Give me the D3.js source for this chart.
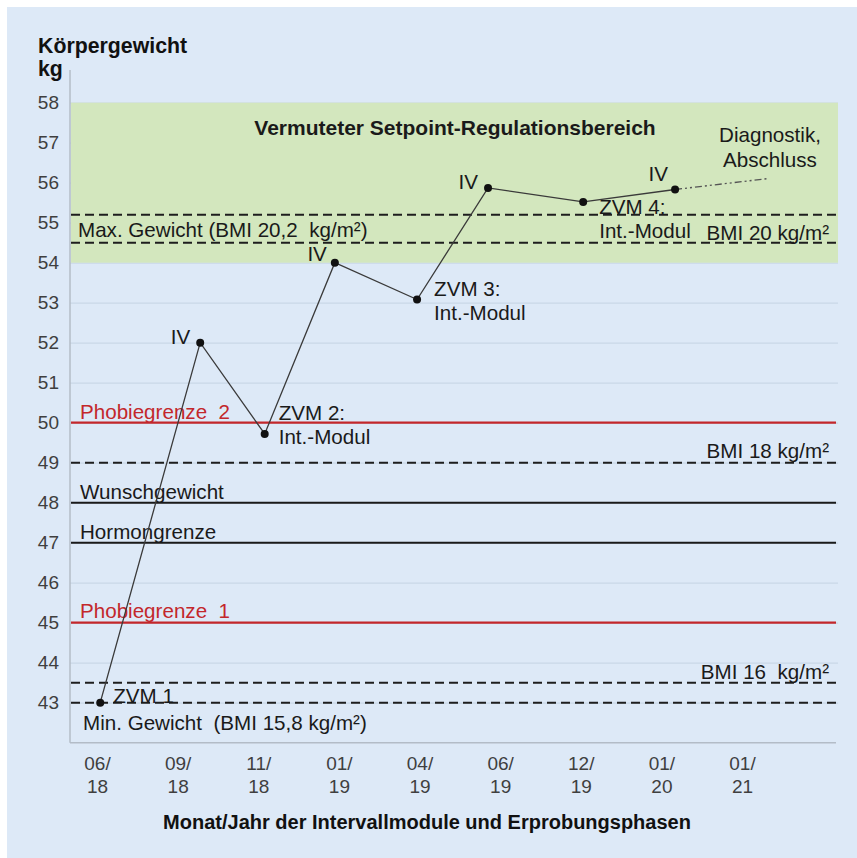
<!DOCTYPE html>
<html>
<head>
<meta charset="utf-8">
<script src="https://cdn.jsdelivr.net/npm/d3@7"></script>
<style>
  body { margin: 0; background: #fff; }
  text { font-family: "Liberation Sans", Arial, sans-serif; }
</style>
</head>
<body>
<div id="chart"></div>
<script>
// month/year labels on the x axis
const months = ["06/18", "09/18", "11/18", "01/19", "04/19", "06/19", "12/19", "01/20", "01/21"];

// weight course: position along the month axis (0 = first label) and kg
const pointPos = [0.04, 1.28, 2.08, 2.95, 3.97, 4.85, 6.03, 7.17];
const weights = [43, 52, 49.72, 54, 53.08, 55.87, 55.52, 55.83];
const pointNotes = ["ZVM 1", "IV", "ZVM 2:\nInt.-Modul", "IV", "ZVM 3:\nInt.-Modul", "IV", "ZVM 4:\nInt.-Modul", "IV"];

// outlook (dash-dot) towards diagnostics / end
const outlookPos = [7.17, 8.31];
const outlookKg = [55.83, 56.1];

// reference lines
const refNames = ["Max. Gewicht (BMI 20,2  kg/m²)", "BMI 20 kg/m²", "Phobiegrenze  2", "BMI 18 kg/m²",
  "Wunschgewicht", "Hormongrenze", "Phobiegrenze  1", "BMI 16  kg/m²", "Min. Gewicht  (BMI 15,8 kg/m²)"];
const refValues = [55.2, 54.5, 50, 49, 48, 47, 45, 43.5, 43];

// assumed setpoint band
const bandRange = [54, 58];
const yTicks = d3.range(43, 59);

const width = 857, height = 858;

const svg = d3.select("#chart").append("svg")
  .attr("width", width)
  .attr("height", height);

svg.append("rect")
  .attr("x", 7).attr("y", 7)
  .attr("width", width - 7).attr("height", height - 7)
  .attr("fill", "#dde9f7");

const x = d3.scaleLinear().domain([0, 8]).range([97, 742]);
const y = d3.scaleLinear().domain([42, 58]).range([742.7, 102.7]);
const plotLeft = 70, plotRight = 836;

// gridlines
svg.append("g")
  .attr("transform", `translate(${plotLeft},0)`)
  .call(d3.axisLeft(y).tickValues(yTicks).tickSize(-(plotRight - plotLeft + 2)).tickFormat(""))
  .call(g => g.select(".domain").remove())
  .call(g => g.selectAll("line").attr("stroke", "#c9d7e7").attr("stroke-width", 1.2));

// setpoint band
svg.append("rect")
  .attr("x", plotLeft + 1)
  .attr("y", y(bandRange[1]))
  .attr("width", plotRight + 1 - plotLeft)
  .attr("height", y(bandRange[0]) - y(bandRange[1]))
  .attr("fill", "#d3e7be");

// y tick labels
svg.append("g")
  .attr("transform", `translate(59,0)`)
  .call(d3.axisLeft(y).tickValues(yTicks).tickSize(0).tickPadding(0))
  .call(g => g.select(".domain").remove())
  .call(g => g.selectAll("text")
    .attr("fill", "#3f3f3f")
    .style("font-size", "19px")
    .style("font-family", "Liberation Sans, Arial, sans-serif"));

// axis lines
svg.append("line")
  .attr("x1", plotLeft).attr("x2", plotLeft)
  .attr("y1", 70).attr("y2", y(42))
  .attr("stroke", "#b3bcc7").attr("stroke-width", 1.5);
svg.append("line")
  .attr("x1", plotLeft).attr("x2", plotRight)
  .attr("y1", y(42)).attr("y2", y(42))
  .attr("stroke", "#b3bcc7").attr("stroke-width", 1.5);

// x tick labels (two lines)
const xAxis = svg.append("g")
  .attr("transform", `translate(0,${y(42)})`)
  .call(d3.axisBottom(x).tickValues(d3.range(months.length)).tickSize(0).tickFormat(""))
  .call(g => g.select(".domain").remove());

xAxis.selectAll(".tick").append("text")
  .attr("text-anchor", "middle")
  .attr("fill", "#3f3f3f")
  .style("font-size", "19px")
  .selectAll("tspan")
  .data(i => months[i].split("/").map((s, k) => k === 0 ? s + "/" : s))
  .join("tspan")
  .attr("x", 0)
  .attr("y", (d, k) => 27 + k * 23)
  .text(d => d);

// reference lines
const refStyle = {
  dashed: { stroke: "#1e1e1e", width: 1.9, dash: "9,5" },
  red: { stroke: "#c3272b", width: 2.2, dash: null },
  solid: { stroke: "#1a1a1a", width: 2, dash: null }
};
const refKind = ["dashed", "dashed", "red", "dashed", "solid", "solid", "red", "dashed", "dashed"];

svg.append("g").selectAll("line")
  .data(refValues)
  .join("line")
  .attr("x1", plotLeft + 1).attr("x2", plotRight)
  .attr("y1", d => y(d)).attr("y2", d => y(d))
  .attr("stroke", (d, i) => refStyle[refKind[i]].stroke)
  .attr("stroke-width", (d, i) => refStyle[refKind[i]].width)
  .attr("stroke-dasharray", (d, i) => refStyle[refKind[i]].dash);

// reference labels: [anchor side, offset from line, x]
const refLabelLayout = [
  ["left", 22, 78], ["right", -3, 829], ["left", -4, 80], ["right", -5, 829],
  ["left", -4, 80], ["left", -4, 80], ["left", -5, 80], ["right", -4, 829], ["left", 27, 83]
];
svg.append("g").selectAll("text")
  .data(refNames)
  .join("text")
  .attr("x", (d, i) => refLabelLayout[i][2])
  .attr("y", (d, i) => y(refValues[i]) + refLabelLayout[i][1])
  .attr("text-anchor", (d, i) => refLabelLayout[i][0] === "right" ? "end" : "start")
  .attr("fill", (d, i) => refKind[i] === "red" ? "#c3272b" : "#1a1a1a")
  .style("font-size", "20.6px")
  .style("white-space", "pre")
  .text(d => d);

// band title
svg.append("text")
  .attr("x", 455).attr("y", y(57.2))
  .attr("text-anchor", "middle")
  .attr("fill", "#1a1a1a")
  .style("font-size", "21px")
  .style("font-weight", "bold")
  .text("Vermuteter Setpoint-Regulationsbereich");

// weight course
const line = d3.line().x(d => x(d[0])).y(d => y(d[1]));
const pts = pointPos.map((p, i) => [p, weights[i]]);

svg.append("path")
  .datum(outlookPos.map((p, i) => [p, outlookKg[i]]))
  .attr("d", line)
  .attr("fill", "none")
  .attr("stroke", "#555")
  .attr("stroke-width", 1.3)
  .attr("stroke-dasharray", "7,3,2,3,2,3");

svg.append("path")
  .datum(pts)
  .attr("d", line)
  .attr("fill", "none")
  .attr("stroke", "#3a3a3a")
  .attr("stroke-width", 1.3);

svg.append("g").selectAll("circle")
  .data(pts)
  .join("circle")
  .attr("cx", d => x(d[0]))
  .attr("cy", d => y(d[1]))
  .attr("r", 4)
  .attr("fill", "#111");

// point notes: [dx, dy of first line, anchor]
const noteLayout = [
  [13, 0, "start"], [-10, 1, "end"], [14, -14, "start"], [-8, -2, "end"],
  [17, -4, "start"], [-10, 1, "end"], [16, 12, "start"], [-7, -9, "end"]
];
svg.append("g").selectAll("text")
  .data(pointNotes)
  .join("text")
  .attr("text-anchor", (d, i) => noteLayout[i][2])
  .attr("fill", "#1a1a1a")
  .style("font-size", "20.6px")
  .each(function(d, i) {
    const px = x(pointPos[i]) + noteLayout[i][0];
    const py = y(weights[i]) + noteLayout[i][1];
    d3.select(this).selectAll("tspan")
      .data(d.split("\n"))
      .join("tspan")
      .attr("x", px)
      .attr("y", (s, k) => py + k * 24)
      .text(s => s);
  });

// outlook note
svg.append("text")
  .attr("text-anchor", "middle")
  .attr("fill", "#1a1a1a")
  .style("font-size", "20.6px")
  .selectAll("tspan")
  .data(["Diagnostik,", "Abschluss"])
  .join("tspan")
  .attr("x", 770)
  .attr("y", (d, k) => 142 + k * 25)
  .text(d => d);

// axis titles
svg.append("text")
  .attr("x", 38).attr("y", 53)
  .attr("fill", "#111")
  .style("font-size", "21.3px")
  .style("font-weight", "bold")
  .text("Körpergewicht");
svg.append("text")
  .attr("x", 38).attr("y", 76)
  .attr("fill", "#111")
  .style("font-size", "21.3px")
  .style("font-weight", "bold")
  .text("kg");
svg.append("text")
  .attr("x", 427).attr("y", 829)
  .attr("text-anchor", "middle")
  .attr("fill", "#111")
  .style("font-size", "20px")
  .style("font-weight", "bold")
  .text("Monat/Jahr der Intervallmodule und Erprobungsphasen");
</script>
</body>
</html>
